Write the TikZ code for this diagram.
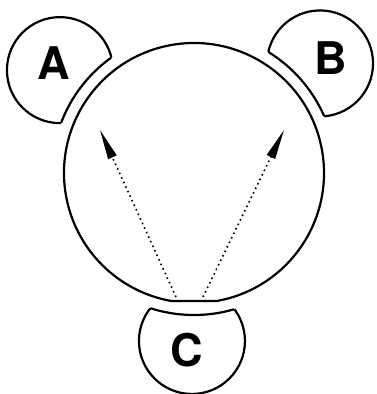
\documentclass[tikz,border=0pt]{standalone}
\usepackage{fontspec}
\setmainfont{TeX Gyre Heros}
\usetikzlibrary{arrows.meta,calc}

\tikzset{
    ring/.style={draw, line width=2.2pt},
    letter/.style={font=\bfseries\fontsize{45}{45}\selectfont, inner sep=0pt},
    ray/.style={line width=1.6pt, dash pattern=on 1.6pt off 3.4pt, -{Triangle[length=30pt, width=9pt]}}
}

\begin{document}
\begin{tikzpicture}[x=1pt, y=1pt]
    \useasboundingbox (0,0) rectangle (377,394);
    \coordinate (eye) at (194,221);
    \coordinate (ca) at ($(eye)+(142.5:169)$);
    \coordinate (cb) at ($(eye)+(41:167)$);
    \coordinate (cc) at ($(eye)+(-90.7:168)$);

    % big circle, flat at the bottom
    \draw[ring] (eye) ++(-79.9:130) arc[start angle=-79.9, end angle=259.9, radius=130] -- cycle;

    % the three small circles, cut by a ring round the big one
    \foreach \c in {ca,cb,cc} {
        \begin{scope}[even odd rule]
            \clip (0,0) rectangle (377,394) (eye) circle[radius=142];
            \draw[ring] (\c) circle[radius=53];
        \end{scope}
        \begin{scope}
            \clip (\c) circle[radius=53];
            \draw[ring] (eye) circle[radius=142];
        \end{scope}
    }

    \node[letter] (a) at (54,331) {A};
    \node[letter] (b) at (331,336) {B};
    \node[letter] (c) at (187,44) {C};

    \coordinate (footl) at (176,97);
    \coordinate (footr) at (203,97);
    \coordinate (tipl) at (100,264);
    \coordinate (tipr) at (284,264);
    \draw[ray] (footl) -- (tipl);
    \draw[ray] (footr) -- (tipr);
\end{tikzpicture}
\end{document}
